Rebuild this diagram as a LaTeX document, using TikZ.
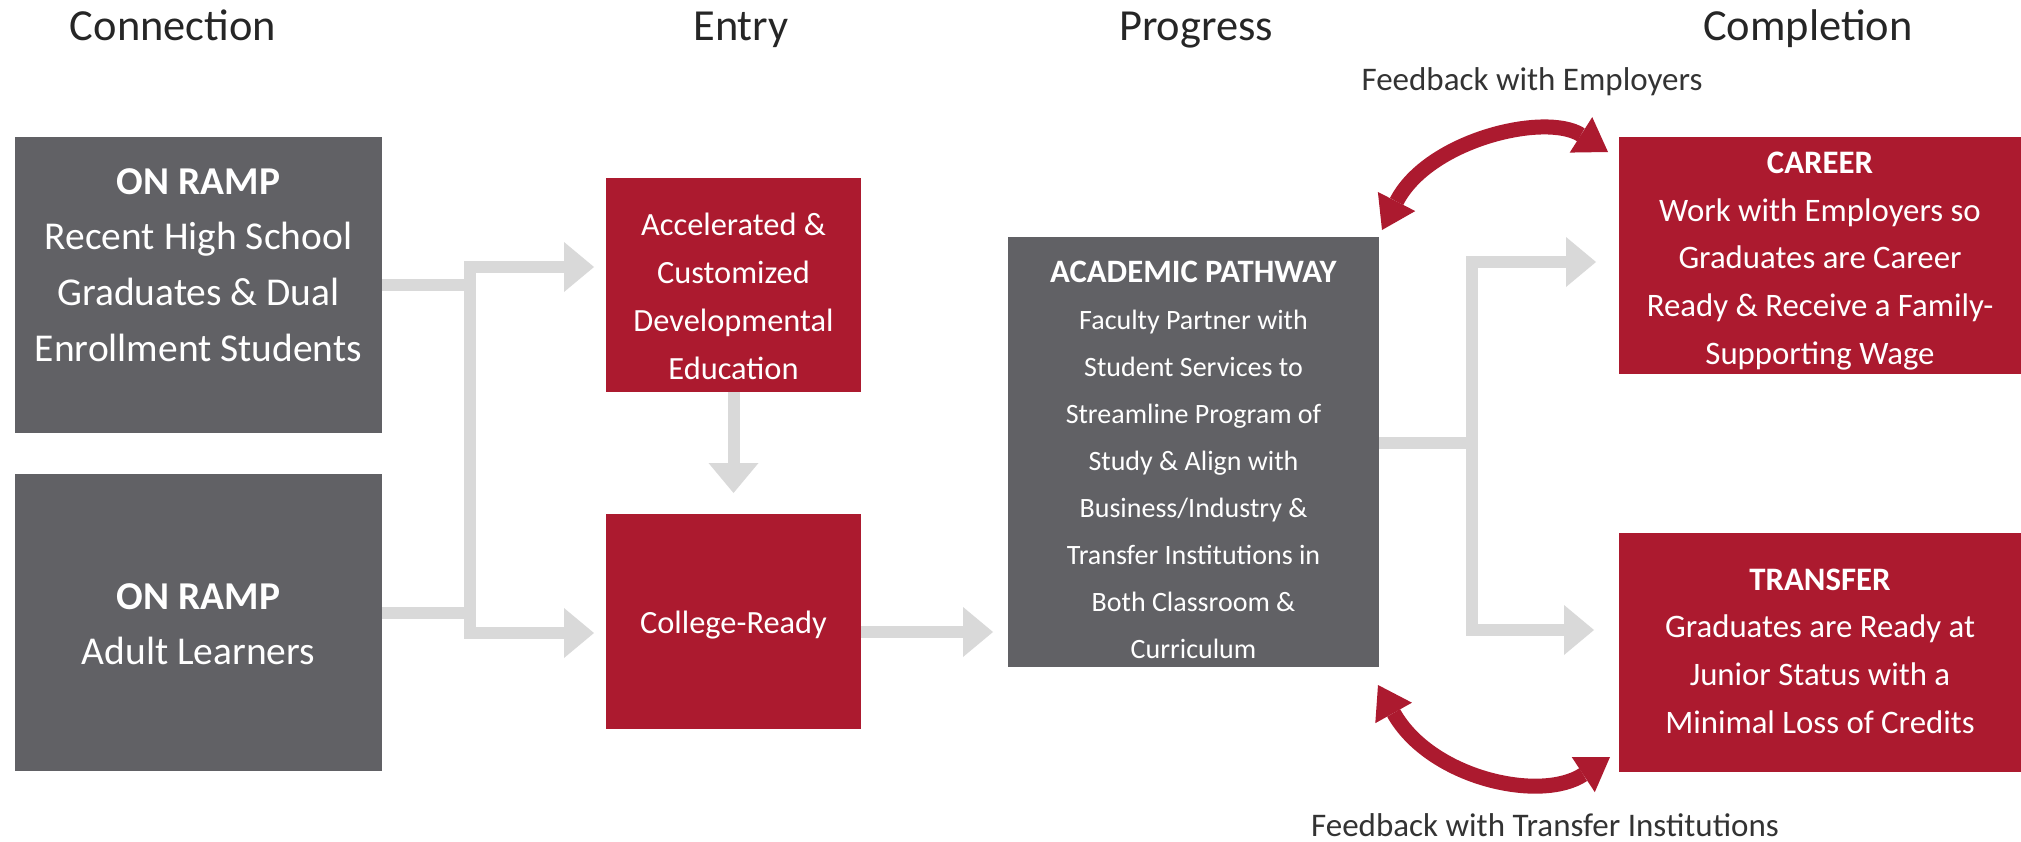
\documentclass[tikz,border=0pt]{standalone}
\usepackage{fontspec}
\setmainfont{Carlito}
\usetikzlibrary{arrows.meta,calc}
\definecolor{boxgrey}{HTML}{616165}
\definecolor{boxred}{HTML}{AC1A2F}
\definecolor{conngrey}{HTML}{D9D9D9}
\definecolor{headtext}{HTML}{262626}
\definecolor{fbtext}{HTML}{333333}
\begin{document}
\begin{tikzpicture}[x=0.75pt,y=-0.75pt,
  panel/.style={rectangle, inner sep=0pt, outer sep=0pt, draw=none},
  greypanel/.style={panel, fill=boxgrey},
  redpanel/.style={panel, fill=boxred},
  ptext/.style={text=white, align=center, inner sep=0pt},
  header/.style={text=headtext, font=\fontsize{33.3}{38}\selectfont, anchor=base, inner sep=0pt},
  fbnote/.style={text=fbtext, font=\fontsize{24.75}{30}\selectfont, anchor=base, inner sep=0pt},
  gline/.style={draw=conngrey, line width=9pt},
  garrow/.style={gline, -{Triangle[length=22.5pt,width=37.5pt,line width=0pt]}},
  rarrow/.style={draw=boxred, line width=11.25pt,
    {Triangle[length=24pt,width=31.5pt,line width=0pt]}-{Triangle[length=24pt,width=31.5pt,line width=0pt]}}
]
\useasboundingbox (0,0) rectangle (2021,842);

% headers
\node[header] (hconn) at (173,41) {Connection};
\node[header] (hentry) at (741,41) {Entry};
\node[header] (hprog) at (1196,41) {Progress};
\node[header] (hcomp) at (1808,41) {Completion};

% panels
\node[greypanel, minimum width=275.25pt, minimum height=222pt] (onramp1) at (198.5,285) {};
\node[greypanel, minimum width=275.25pt, minimum height=222.75pt] (onramp2) at (198.5,622.5) {};
\node[redpanel, minimum width=191.25pt, minimum height=160.5pt] (accel) at (733.5,285) {};
\node[redpanel, minimum width=191.25pt, minimum height=161.25pt] (ready) at (733.5,621.5) {};
\node[greypanel, minimum width=278.25pt, minimum height=322.5pt] (acad) at (1193.5,452) {};
\node[redpanel, minimum width=301.5pt, minimum height=177.75pt] (career) at (1820,255.5) {};
\node[redpanel, minimum width=301.5pt, minimum height=179.25pt] (transfer) at (1820,652.5) {};

% panel texts
\node[ptext, font=\fontsize{29.6}{41.7}\selectfont] (t1) at (198.5,265)
  {\textbf{ON RAMP}\\Recent High School\\Graduates \& Dual\\Enrollment Students};
\node[ptext, font=\fontsize{29.6}{41.7}\selectfont] (t2) at (198.5,624)
  {\textbf{ON RAMP}\\Adult Learners};
\node[ptext, font=\fontsize{24.3}{36}\selectfont] (t3) at (733.5,296)
  {Accelerated \&\\Customized\\Developmental\\Education};
\node[ptext, font=\fontsize{24.3}{36}\selectfont] (t4) at (733.5,625)
  {College-Ready};
\node[ptext, font=\fontsize{21}{35.2}\selectfont] (t5) at (1193.5,460)
  {{\fontsize{24.5}{35.2}\selectfont\textbf{ACADEMIC PATHWAY}}\\Faculty Partner with\\Student Services to\\Streamline Program of\\Study \& Align with\\Business/Industry \&\\Transfer Institutions in\\Both Classroom \&\\Curriculum};
\node[ptext, font=\fontsize{24.6}{35.8}\selectfont] (t6) at (1820,261)
  {\textbf{CAREER}\\Work with Employers so\\Graduates are Career\\Ready \& Receive a Family-\\Supporting Wage};
\node[ptext, font=\fontsize{24.6}{35.8}\selectfont] (t7) at (1820,651)
  {\textbf{TRANSFER}\\Graduates are Ready at\\Junior Status with a\\Minimal Loss of Credits};

% feedback notes
\node[fbnote] (fbemp) at (1532,90) {Feedback with Employers};
\node[fbnote] (fbtra) at (1545,836) {Feedback with Transfer Institutions};

% left connectors
\coordinate (lbarT) at (470,261);
\coordinate (lbarB) at (470,639);
\coordinate (o2out) at (382,613);
\coordinate (accIn) at (594,267);
\coordinate (rdyIn) at (594,633);
\draw[gline] (onramp1.east) -- (onramp1.east -| lbarT);
\draw[gline] (o2out) -- (o2out -| lbarT);
\draw[gline] (lbarT) -- (lbarB);
\draw[garrow] (lbarT |- accIn) -- (accIn);
\draw[garrow] (lbarT |- rdyIn) -- (rdyIn);

% entry connectors
\draw[garrow] (accel.south) -- ($(ready.north)+(0,-21)$);
\draw[garrow] ($(ready.east)+(0,10.5)$) -- ($(acad.west)+(-15,180)$);

% right connectors
\coordinate (rbarT) at (1472,256);
\coordinate (rbarB) at (1472,636);
\coordinate (acOut) at (1379,443);
\coordinate (carIn) at (1596,262);
\coordinate (traIn) at (1594,630);
\draw[gline] (acOut) -- (acOut -| rbarT);
\draw[gline] (rbarT) -- (rbarB);
\draw[garrow] (rbarT |- carIn) -- (carIn);
\draw[garrow] (rbarT |- traIn) -- (traIn);

% feedback arcs
\coordinate (fa1) at ($(acad.north east)+(3,-7)$);
\coordinate (fa2) at ($(career.north west)+(-11,15)$);
\coordinate (fb1) at ($(acad.south east)+(-1,18)$);
\coordinate (fb2) at ($(transfer.south west)+(-9,-15)$);
\draw[rarrow] (fa1) .. controls (1428,140) and (1545,112) .. (fa2);
\draw[rarrow] (fb1) .. controls (1430,778) and (1540,803) .. (fb2);
\end{tikzpicture}
\end{document}
